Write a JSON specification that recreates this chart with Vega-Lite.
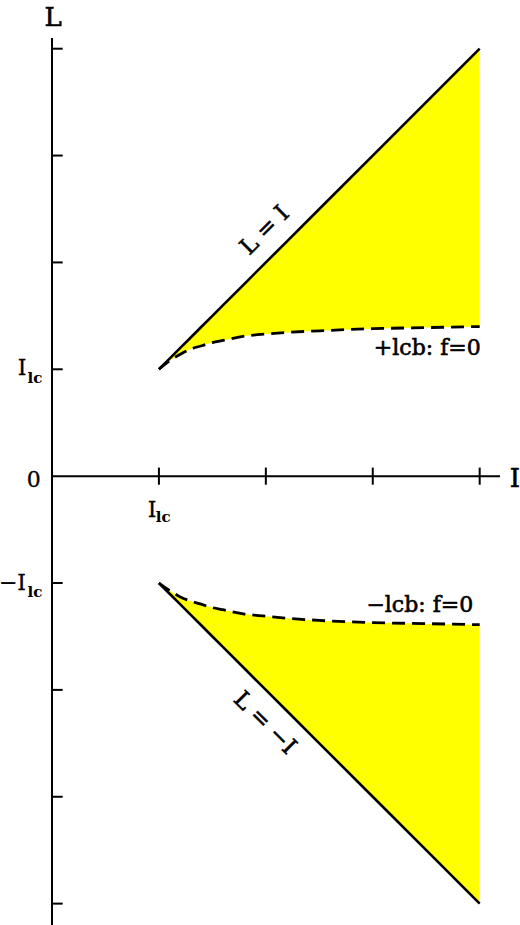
{
  "$schema": "https://vega.github.io/schema/vega-lite/v6.json",
  "autosize": "none",
  "padding": {"left": 52, "top": 38, "right": 20, "bottom": 0},
  "width": 448,
  "height": 887,
  "background": "white",
  "config": {"view": {"stroke": null}, "text": {"font": "DejaVu Serif", "fill": "black", "stroke": "black", "strokeWidth": 0.6}},
  "datasets": {
    "zone": [
      {"I": 1.0, "L": 1.0, "c": 1.0, "p": "up"},
      {"I": 1.1, "L": 1.1, "c": 1.08, "p": "up"},
      {"I": 1.2, "L": 1.2, "c": 1.14, "p": "up"},
      {"I": 1.3, "L": 1.3, "c": 1.19, "p": "up"},
      {"I": 1.4, "L": 1.4, "c": 1.22, "p": "up"},
      {"I": 1.5, "L": 1.5, "c": 1.25, "p": "up"},
      {"I": 1.6, "L": 1.6, "c": 1.27, "p": "up"},
      {"I": 1.8, "L": 1.8, "c": 1.31, "p": "up"},
      {"I": 2.0, "L": 2.0, "c": 1.33, "p": "up"},
      {"I": 2.2, "L": 2.2, "c": 1.345, "p": "up"},
      {"I": 2.5, "L": 2.5, "c": 1.36, "p": "up"},
      {"I": 3.0, "L": 3.0, "c": 1.38, "p": "up"},
      {"I": 3.5, "L": 3.5, "c": 1.39, "p": "up"},
      {"I": 4.0, "L": 4.0, "c": 1.4, "p": "up"},
      {"I": 1.0, "L": -1.0, "c": -1.0, "p": "down"},
      {"I": 1.1, "L": -1.1, "c": -1.07, "p": "down"},
      {"I": 1.2, "L": -1.2, "c": -1.13, "p": "down"},
      {"I": 1.3, "L": -1.3, "c": -1.17, "p": "down"},
      {"I": 1.4, "L": -1.4, "c": -1.2, "p": "down"},
      {"I": 1.5, "L": -1.5, "c": -1.23, "p": "down"},
      {"I": 1.6, "L": -1.6, "c": -1.25, "p": "down"},
      {"I": 1.8, "L": -1.8, "c": -1.29, "p": "down"},
      {"I": 2.0, "L": -2.0, "c": -1.31, "p": "down"},
      {"I": 2.2, "L": -2.2, "c": -1.33, "p": "down"},
      {"I": 2.5, "L": -2.5, "c": -1.35, "p": "down"},
      {"I": 3.0, "L": -3.0, "c": -1.37, "p": "down"},
      {"I": 3.5, "L": -3.5, "c": -1.38, "p": "down"},
      {"I": 4.0, "L": -4.0, "c": -1.39, "p": "down"}
    ]
  },
  "layer": [
    {
      "data": {"name": "zone"},
      "mark": {"type": "area", "color": "#ffff00", "interpolate": "monotone"},
      "encoding": {
        "x": {"field": "I", "type": "quantitative", "scale": {"domain": [0, 4.19], "nice": false, "zero": false}, "axis": null},
        "y": {"field": "L", "type": "quantitative", "scale": {"domain": [-4.2, 4.1], "nice": false, "zero": false}, "axis": null, "stack": null},
        "y2": {"field": "c"},
        "detail": {"field": "p"}
      }
    },
    {
      "data": {"name": "zone"},
      "mark": {"type": "line", "color": "black", "strokeWidth": 2.6},
      "encoding": {
        "x": {"field": "I", "type": "quantitative", "scale": {"domain": [0, 4.19], "nice": false, "zero": false}, "axis": null},
        "y": {"field": "L", "type": "quantitative", "scale": {"domain": [-4.2, 4.1], "nice": false, "zero": false}, "axis": null},
        "detail": {"field": "p"}
      }
    },
    {
      "data": {"name": "zone"},
      "mark": {"type": "line", "color": "black", "strokeWidth": 2.8, "strokeDash": [13, 7], "interpolate": "monotone"},
      "encoding": {
        "x": {"field": "I", "type": "quantitative", "scale": {"domain": [0, 4.19], "nice": false, "zero": false}, "axis": null},
        "y": {"field": "c", "type": "quantitative", "scale": {"domain": [-4.2, 4.1], "nice": false, "zero": false}, "axis": null},
        "detail": {"field": "p"}
      }
    },
    {
      "data": {"values": [
        {"x1": 0, "x2": 0, "y1": -4.5, "y2": 4.1},
        {"x1": 0, "x2": 4.19, "y1": 0, "y2": 0}
      ]},
      "mark": {"type": "rule", "color": "black", "strokeWidth": 2},
      "encoding": {
        "x": {"field": "x1", "type": "quantitative", "scale": {"domain": [0, 4.19], "nice": false, "zero": false}, "axis": null},
        "x2": {"field": "x2"},
        "y": {"field": "y1", "type": "quantitative", "scale": {"domain": [-4.2, 4.1], "nice": false, "zero": false}, "axis": null},
        "y2": {"field": "y2"}
      }
    },
    {
      "data": {"values": [{"L": 4}, {"L": 3}, {"L": 2}, {"L": 1}, {"L": -1}, {"L": -2}, {"L": -3}, {"L": -4}]},
      "mark": {"type": "rule", "color": "black", "strokeWidth": 2},
      "encoding": {
        "x": {"datum": 0, "type": "quantitative", "scale": {"domain": [0, 4.19], "nice": false, "zero": false}, "axis": null},
        "x2": {"datum": 0.1},
        "y": {"field": "L", "type": "quantitative", "scale": {"domain": [-4.2, 4.1], "nice": false, "zero": false}, "axis": null}
      }
    },
    {
      "data": {"values": [{"I": 1}, {"I": 2}, {"I": 3}, {"I": 4}]},
      "mark": {"type": "rule", "color": "black", "strokeWidth": 2},
      "encoding": {
        "x": {"field": "I", "type": "quantitative", "scale": {"domain": [0, 4.19], "nice": false, "zero": false}, "axis": null},
        "y": {"datum": -0.08, "type": "quantitative", "scale": {"domain": [-4.2, 4.1], "nice": false, "zero": false}, "axis": null},
        "y2": {"datum": 0.08}
      }
    },
    {
      "data": {"values": [
        {"I": 0.01, "L": 4.21, "t": "L"},
        {"I": 4.33, "L": -0.1, "t": "I"}
      ]},
      "mark": {"type": "text", "fontSize": 26, "align": "center", "baseline": "alphabetic"},
      "encoding": {
        "x": {"field": "I", "type": "quantitative", "scale": {"domain": [0, 4.19], "nice": false, "zero": false}, "axis": null},
        "y": {"field": "L", "type": "quantitative", "scale": {"domain": [-4.2, 4.1], "nice": false, "zero": false}, "axis": null},
        "text": {"field": "t"}
      }
    },
    {
      "data": {"values": [
        {"I": -0.17, "L": -0.04, "t": "0"},
        {"I": -0.28, "L": 1.01, "t": "I"},
        {"I": -0.37, "L": -1.0, "t": "−I"},
        {"I": 0.935, "L": -0.32, "t": "I"}
      ]},
      "mark": {"type": "text", "fontSize": 22, "strokeWidth": 0.3, "align": "center", "baseline": "middle"},
      "encoding": {
        "x": {"field": "I", "type": "quantitative", "scale": {"domain": [0, 4.19], "nice": false, "zero": false}, "axis": null},
        "y": {"field": "L", "type": "quantitative", "scale": {"domain": [-4.2, 4.1], "nice": false, "zero": false}, "axis": null},
        "text": {"field": "t"}
      }
    },
    {
      "data": {"values": [
        {"I": -0.16, "L": 0.92, "t": "lc"},
        {"I": -0.16, "L": -1.08, "t": "lc"},
        {"I": 1.04, "L": -0.38, "t": "lc"}
      ]},
      "mark": {"type": "text", "fontSize": 15, "fontWeight": "bold", "strokeWidth": 0, "align": "center", "baseline": "middle"},
      "encoding": {
        "x": {"field": "I", "type": "quantitative", "scale": {"domain": [0, 4.19], "nice": false, "zero": false}, "axis": null},
        "y": {"field": "L", "type": "quantitative", "scale": {"domain": [-4.2, 4.1], "nice": false, "zero": false}, "axis": null},
        "text": {"field": "t"}
      }
    },
    {
      "data": {"values": [
        {"I": 3.51, "L": 1.2, "t": "+lcb: f=0"},
        {"I": 3.44, "L": -1.21, "t": "−lcb: f=0"}
      ]},
      "mark": {"type": "text", "fontSize": 22, "align": "center", "baseline": "middle"},
      "encoding": {
        "x": {"field": "I", "type": "quantitative", "scale": {"domain": [0, 4.19], "nice": false, "zero": false}, "axis": null},
        "y": {"field": "L", "type": "quantitative", "scale": {"domain": [-4.2, 4.1], "nice": false, "zero": false}, "axis": null},
        "text": {"field": "t"}
      }
    },
    {
      "data": {"values": [{"I": 1.99, "L": 2.3, "t": "L = I"}]},
      "mark": {"type": "text", "fontSize": 23, "angle": -45, "align": "center", "baseline": "middle"},
      "encoding": {
        "x": {"field": "I", "type": "quantitative", "scale": {"domain": [0, 4.19], "nice": false, "zero": false}, "axis": null},
        "y": {"field": "L", "type": "quantitative", "scale": {"domain": [-4.2, 4.1], "nice": false, "zero": false}, "axis": null},
        "text": {"field": "t"}
      }
    },
    {
      "data": {"values": [{"I": 1.99, "L": -2.31, "t": "L = −I"}]},
      "mark": {"type": "text", "fontSize": 23, "angle": 45, "align": "center", "baseline": "middle"},
      "encoding": {
        "x": {"field": "I", "type": "quantitative", "scale": {"domain": [0, 4.19], "nice": false, "zero": false}, "axis": null},
        "y": {"field": "L", "type": "quantitative", "scale": {"domain": [-4.2, 4.1], "nice": false, "zero": false}, "axis": null},
        "text": {"field": "t"}
      }
    }
  ]
}
